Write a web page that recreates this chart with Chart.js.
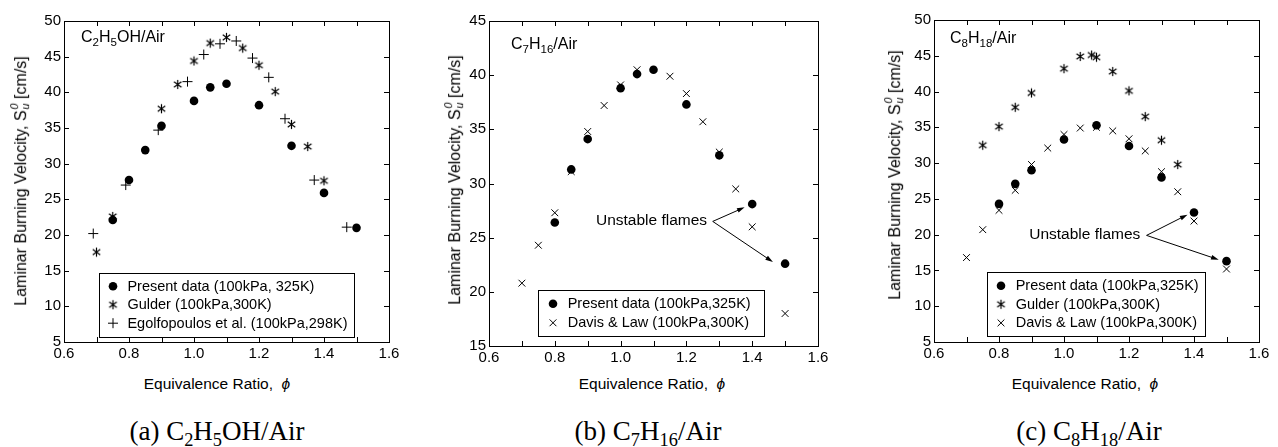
<!DOCTYPE html>
<html>
<head>
<meta charset="utf-8">
<script src="https://cdn.jsdelivr.net/npm/chart.js@4/dist/chart.umd.min.js"></script>
<style>
  body { margin: 0; background: #fff; }
  #page { position: relative; width: 1278px; height: 447px; overflow: hidden; font-family: "Liberation Sans", Arial, sans-serif; color: #000; }
  canvas { position: absolute; }
  .ytitle { position: absolute; font-size: 16px; white-space: nowrap; transform: translate(-50%, -50%) rotate(-90deg); }
  .xtitle { position: absolute; font-size: 15.5px; white-space: nowrap; transform: translate(-50%, -50%); }
  .inset { position: absolute; font-size: 16px; white-space: nowrap; }
  .inset sub { font-size: 72%; }
  .caption { position: absolute; font-family: "Liberation Serif", "Times New Roman", serif; font-size: 27px; white-space: nowrap; transform: translate(-50%, -50%); }
  sub, sup { font-size: 68%; line-height: 0; }
  .ss { display: inline-block; vertical-align: -0.3em; line-height: 1; font-size: 68%; font-style: italic; margin-left: 1px; }
  .ss span { display: block; }
</style>
</head>
<body>
<div id="page">
  <canvas id="chartA" width="383" height="359" style="left:20px;top:9px"></canvas>
  <canvas id="chartB" width="387" height="363" style="left:445px;top:9px"></canvas>
  <canvas id="chartC" width="383" height="360" style="left:890px;top:8px"></canvas>

  <div class="ytitle" style="left:20px;top:181px">Laminar Burning Velocity, S<span class="ss"><span>0</span><span>u</span></span> [cm/s]</div>
  <div class="ytitle" style="left:454px;top:180px">Laminar Burning Velocity, S<span class="ss"><span>0</span><span>u</span></span> [cm/s]</div>
  <div class="ytitle" style="left:894px;top:175px">Laminar Burning Velocity, S<span class="ss"><span>0</span><span>u</span></span> [cm/s]</div>

  <div class="xtitle" style="left:217px;top:384px">Equivalence Ratio,&nbsp; <i>ϕ</i></div>
  <div class="xtitle" style="left:652px;top:384px">Equivalence Ratio,&nbsp; <i>ϕ</i></div>
  <div class="xtitle" style="left:1085px;top:384px">Equivalence Ratio,&nbsp; <i>ϕ</i></div>

  <div class="inset" style="left:81px;top:28px">C<sub>2</sub>H<sub>5</sub>OH/Air</div>
  <div class="inset" style="left:511px;top:35px">C<sub>7</sub>H<sub>16</sub>/Air</div>
  <div class="inset" style="left:950px;top:29px">C<sub>8</sub>H<sub>18</sub>/Air</div>

  <div class="caption" style="left:217px;top:431px">(a) C<sub>2</sub>H<sub>5</sub>OH/Air</div>
  <div class="caption" style="left:648px;top:431px">(b) C<sub>7</sub>H<sub>16</sub>/Air</div>
  <div class="caption" style="left:1089px;top:431px">(c) C<sub>8</sub>H<sub>18</sub>/Air</div>
</div>
<script>
// (a) C2H5OH/Air
const presentA_x = [0.75, 0.8, 0.85, 0.9, 1.0, 1.05, 1.1, 1.2, 1.3, 1.4, 1.5];
const presentA_y = [22.1, 27.7, 31.9, 35.3, 38.8, 40.7, 41.2, 38.2, 32.5, 25.9, 21.0];
const gulderA_x = [0.7, 0.75, 0.9, 0.95, 1.0, 1.05, 1.1, 1.15, 1.2, 1.25, 1.3, 1.35, 1.4];
const gulderA_y = [17.6, 22.6, 37.7, 41.1, 44.4, 46.9, 47.7, 46.2, 43.8, 40.1, 35.5, 32.4, 27.6];
const egolfA_x = [0.69, 0.79, 0.89, 0.98, 1.03, 1.08, 1.13, 1.18, 1.23, 1.28, 1.37, 1.47];
const egolfA_y = [20.2, 27.0, 34.7, 41.5, 45.3, 46.8, 47.2, 44.8, 42.1, 36.3, 27.7, 21.1];

// (b) C7H16/Air
const presentB_x = [0.8, 0.85, 0.9, 1.0, 1.05, 1.1, 1.2, 1.3, 1.4, 1.5];
const presentB_y = [26.4, 31.3, 34.1, 38.8, 40.1, 40.5, 37.3, 32.6, 28.1, 22.6];
const davisB_x = [0.7, 0.75, 0.8, 0.85, 0.9, 0.95, 1.0, 1.05, 1.15, 1.2, 1.25, 1.3, 1.35, 1.4, 1.5];
const davisB_y = [20.8, 24.3, 27.3, 31.1, 34.8, 37.2, 39.1, 40.5, 39.9, 38.3, 35.7, 32.9, 29.5, 26.0, 18.0];

// (c) C8H18/Air
const presentC_x = [0.8, 0.85, 0.9, 1.0, 1.1, 1.2, 1.3, 1.4, 1.5];
const presentC_y = [24.3, 27.1, 29.0, 33.3, 35.3, 32.4, 28.0, 23.1, 16.3];
const gulderC_x = [0.75, 0.8, 0.85, 0.9, 1.0, 1.05, 1.085, 1.1, 1.15, 1.2, 1.25, 1.3, 1.35];
const gulderC_y = [32.5, 35.1, 37.8, 39.8, 43.2, 44.9, 45.1, 44.8, 42.8, 40.1, 36.5, 33.2, 29.8];
const davisC_x = [0.7, 0.75, 0.8, 0.85, 0.9, 0.95, 1.0, 1.05, 1.1, 1.15, 1.2, 1.25, 1.3, 1.35, 1.4, 1.5];
const davisC_y = [16.8, 20.7, 23.4, 26.2, 29.8, 32.1, 34.0, 34.9, 35.0, 34.5, 33.4, 31.7, 28.8, 26.0, 21.9, 15.2];

// legend labels
const labelsA = ["Present data (100kPa, 325K)", "Gulder (100kPa,300K)", "Egolfopoulos et al. (100kPa,298K)"];
const labelsB = ["Present data (100kPa,325K)", "Davis & Law (100kPa,300K)"];
const labelsC = ["Present data (100kPa,325K)", "Gulder (100kPa,300K)", "Davis & Law (100kPa,300K)"];

// "Unstable flames" note, in data units: [phi, Su]
const noteB = { at: [1.094, 26.55], from: [1.28, 26.5], to: [[1.377, 27.8], [1.463, 22.75]] };
const noteC = { at: [1.064, 19.93], from: [1.254, 19.9], to: [[1.38, 22.8], [1.476, 16.5]] };

const FONT = '"Liberation Sans", Arial, sans-serif';

function zip(xs, ys) {
  return xs.map((x, i) => ({ x, y: ys[i] }));
}

// six-armed asterisk marker
function makeAsterisk() {
  let c = document.createElement("canvas");
  c.width = 11; c.height = 11;
  let g = c.getContext("2d");
  g.strokeStyle = "#000";
  g.lineWidth = 1.2;
  g.translate(5.5, 5.5);
  [90, 35, -35].forEach(a => {
    let r = a * Math.PI / 180;
    g.beginPath();
    g.moveTo(-4.6 * Math.cos(r), -4.6 * Math.sin(r));
    g.lineTo(4.6 * Math.cos(r), 4.6 * Math.sin(r));
    g.stroke();
  });
  return c;
}
const asterisk = makeAsterisk();

const styles = {
  present: { pointStyle: "circle", pointRadius: 4.3, backgroundColor: "#000", borderColor: "#000", borderWidth: 0 },
  gulder: { pointStyle: asterisk, pointRadius: 5, backgroundColor: "#000", borderColor: "#000", borderWidth: 1 },
  egolf: { pointStyle: "cross", pointRadius: 5, backgroundColor: "#000", borderColor: "#000", borderWidth: 1 },
  davis: { pointStyle: "crossRot", pointRadius: 4.8, backgroundColor: "#000", borderColor: "#000", borderWidth: 1 }
};

// frame, inward ticks, legend box and note arrows
const framePlugin = {
  id: "frame",
  afterDraw(chart, args, opts) {
    let ctx = chart.ctx;
    let a = chart.chartArea;
    let xs = chart.scales.x, ys = chart.scales.y;
    ctx.save();
    ctx.strokeStyle = "#000";
    ctx.lineWidth = 1;
    ctx.strokeRect(a.left + 0.5, a.top + 0.5, a.right - a.left, a.bottom - a.top);
    ctx.beginPath();
    for (let i = 0; i <= 10; i++) {
      let px = Math.round(xs.getPixelForValue(xs.min + i * 0.1)) + 0.5;
      ctx.moveTo(px, a.bottom); ctx.lineTo(px, a.bottom - 5);
      ctx.moveTo(px, a.top); ctx.lineTo(px, a.top + 5);
    }
    for (let v = ys.min; v <= ys.max + 0.01; v += 5) {
      let py = Math.round(ys.getPixelForValue(v)) + 0.5;
      ctx.moveTo(a.left, py); ctx.lineTo(a.left + 5, py);
      ctx.moveTo(a.right, py); ctx.lineTo(a.right - 5, py);
    }
    ctx.stroke();

    // legend
    let lg = opts.legend;
    let bx = a.left + lg.left, by = a.top + lg.top;
    ctx.fillStyle = "#fff";
    ctx.fillRect(bx, by, lg.width, lg.height);
    ctx.strokeRect(Math.round(bx) + 0.5, Math.round(by) + 0.5, lg.width, lg.height);
    ctx.font = "14.5px " + FONT;
    ctx.textBaseline = "middle";
    ctx.textAlign = "left";
    chart.data.datasets.forEach((ds, i) => {
      let cy = by + lg.first + i * lg.step;
      ctx.fillStyle = "#000";
      ctx.strokeStyle = "#000";
      ctx.lineWidth = ds.borderWidth || 1;
      Chart.helpers.drawPoint(ctx, { pointStyle: ds.pointStyle, radius: ds.pointRadius, borderWidth: ds.borderWidth, rotation: 0 }, bx + lg.symbol, cy);
      ctx.fillText(ds.label, bx + lg.text, cy + 0.5);
    });

    // note with arrows
    let n = opts.note;
    if (n) {
      ctx.fillStyle = "#000";
      ctx.strokeStyle = "#000";
      ctx.lineWidth = 1;
      ctx.font = "15.5px " + FONT;
      ctx.textAlign = "center";
      ctx.fillText("Unstable flames", xs.getPixelForValue(n.at[0]), ys.getPixelForValue(n.at[1]));
      let fx = xs.getPixelForValue(n.from[0]), fy = ys.getPixelForValue(n.from[1]);
      n.to.forEach(t => {
        let tx = xs.getPixelForValue(t[0]), ty = ys.getPixelForValue(t[1]);
        let ang = Math.atan2(ty - fy, tx - fx);
        ctx.beginPath();
        ctx.moveTo(fx, fy);
        ctx.lineTo(tx - 5 * Math.cos(ang), ty - 5 * Math.sin(ang));
        ctx.stroke();
        ctx.beginPath();
        ctx.moveTo(tx, ty);
        ctx.lineTo(tx - 8 * Math.cos(ang - 0.3), ty - 8 * Math.sin(ang - 0.3));
        ctx.lineTo(tx - 8 * Math.cos(ang + 0.3), ty - 8 * Math.sin(ang + 0.3));
        ctx.closePath();
        ctx.fill();
      });
    }
    ctx.restore();
  }
};

function makeChart(id, datasets, yMin, yMax, legend, note) {
  return new Chart(document.getElementById(id), {
    type: "scatter",
    data: { datasets: datasets.map(d => Object.assign({ label: d.label, data: d.data, showLine: false }, d.style)) },
    options: {
      responsive: false,
      animation: false,
      events: [],
      layout: { padding: { top: 8, right: 14, left: 0, bottom: 0 } },
      scales: {
        x: {
          type: "linear", min: 0.6, max: 1.6,
          afterFit: s => { s.height = 26; },
          grid: { display: false, drawTicks: false },
          border: { display: false },
          ticks: { stepSize: 0.2, padding: 3, color: "#000", font: { family: FONT, size: 15 },
                   autoSkip: false, maxRotation: 0, callback: v => v.toFixed(1) }
        },
        y: {
          type: "linear", min: yMin, max: yMax,
          afterFit: s => { s.width = 44; },
          grid: { display: false, drawTicks: false },
          border: { display: false },
          ticks: { stepSize: 5, padding: 3, color: "#000", font: { family: FONT, size: 15 }, autoSkip: false }
        }
      },
      plugins: {
        legend: { display: false },
        tooltip: { enabled: false },
        frame: { legend, note }
      }
    },
    plugins: [framePlugin]
  });
}

makeChart("chartA", [
  { label: labelsA[0], data: zip(presentA_x, presentA_y), style: styles.present },
  { label: labelsA[1], data: zip(gulderA_x, gulderA_y), style: styles.gulder },
  { label: labelsA[2], data: zip(egolfA_x, egolfA_y), style: styles.egolf }
], 5, 50, { left: 35, top: 251.5, width: 255, height: 64, first: 13.7, step: 18.5, symbol: 14, text: 28.4 }, null);

makeChart("chartB", [
  { label: labelsB[0], data: zip(presentB_x, presentB_y), style: styles.present },
  { label: labelsB[1], data: zip(davisB_x, davisB_y), style: styles.davis }
], 15, 45, { left: 49.3, top: 268.5, width: 226, height: 46, first: 14.3, step: 19, symbol: 14.7, text: 29.4 }, noteB);

makeChart("chartC", [
  { label: labelsC[0], data: zip(presentC_x, presentC_y), style: styles.present },
  { label: labelsC[1], data: zip(gulderC_x, gulderC_y), style: styles.gulder },
  { label: labelsC[2], data: zip(davisC_x, davisC_y), style: styles.davis }
], 5, 50, { left: 53, top: 252.3, width: 218, height: 64, first: 13.4, step: 18.6, symbol: 14, text: 28.7 }, noteC);
</script>
</body>
</html>
